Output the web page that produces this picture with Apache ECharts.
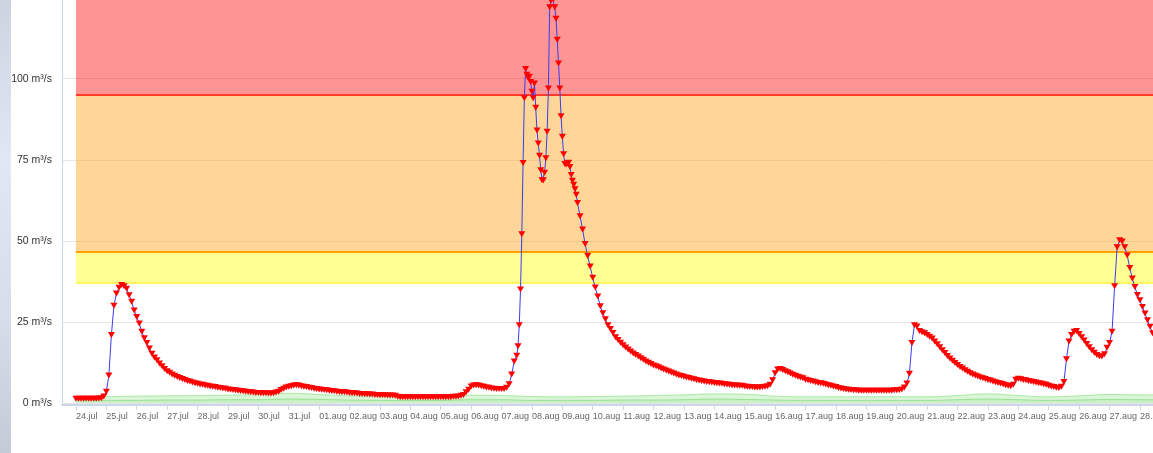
<!DOCTYPE html>
<html><head><meta charset="utf-8">
<script src="https://cdn.jsdelivr.net/npm/echarts@6/dist/echarts.min.js"></script>
<style>html,body{margin:0;padding:0;background:#fff;overflow:hidden}#c{width:1153px;height:453px}</style>
</head><body><div id="c"></div>
<script>
// Day tick labels (one per midnight, day 0 = 24.jul)
const dayLabels = ['24.jul','25.jul','26.jul','27.jul','28.jul','29.jul','30.jul','31.jul',
  '01.aug','02.aug','03.aug','04.aug','05.aug','06.aug','07.aug','08.aug','09.aug','10.aug',
  '11.aug','12.aug','13.aug','14.aug','15.aug','16.aug','17.aug','18.aug','19.aug','20.aug',
  '21.aug','22.aug','23.aug','24.aug','25.aug','26.aug','27.aug','28.aug'];

// Discharge (m³/s), 2-hourly from 24.jul 00:00 to 07.aug 10:00
const flowBeforeStartDay = 0;
const flowBeforeStepHours = 2;
const flowBefore = [
  1.3,1.3,1.3,1.3,1.3,1.3,1.3,1.3,1.3,1.4,1.5,2.0,
  3.5,8.5,21,30,33.8,35.5,36.4,36,35.2,33.2,31.2,28.5,
  26.5,24.5,22,20,18.5,16.8,15.2,14,13.2,12.2,11.3,10.5,
  9.8,9.3,8.8,8.4,8.0,7.7,7.4,7.1,6.8,6.6,6.3,6.1,
  5.9,5.7,5.6,5.4,5.3,5.1,5.0,4.9,4.7,4.6,4.5,4.4,
  4.2,4.1,4.0,3.9,3.8,3.7,3.6,3.5,3.4,3.3,3.2,3.1,
  3.1,3.0,3.0,3.0,2.9,2.9,3.0,3.2,3.5,4.0,4.4,4.8,
  5.0,5.2,5.4,5.5,5.4,5.2,5.0,4.9,4.7,4.6,4.4,4.3,
  4.2,4.1,4.0,3.9,3.8,3.7,3.6,3.5,3.4,3.3,3.3,3.2,
  3.1,3.0,3.0,2.9,2.8,2.8,2.7,2.7,2.6,2.6,2.5,2.5,
  2.4,2.4,2.4,2.3,2.3,2.3,2.2,1.9,1.8,1.8,1.8,1.8,
  1.8,1.8,1.8,1.8,1.8,1.8,1.8,1.8,1.8,1.8,1.8,1.8,
  1.8,1.8,1.8,1.8,1.8,1.9,1.9,2.0,2.2,2.5,3.3,4.1,
  5.1,5.4,5.5,5.4,5.2,5.0,4.8,4.7,4.5,4.4,4.3,4.3,
  4.3,4.3,4.7,5.8,8.8,12.8
];

// Flood peak, hourly from 07.aug 12:00 to 09.aug 11:00
const flowPeakStartDay = 14.5;
const flowPeakStepHours = 1;
const flowPeak = [
  14.6,17.5,24,35,52,74,94,103,101.2,100.3,100.6,99,
  96,94,98.5,91,84,80,76.2,71.8,68.7,68.7,71,75.5,
  83.6,97,122,124,125,124.5,122,118.5,112,104.7,97,88.4,
  82.1,76.7,73.7,73.5,73.9,74.1,72.8,70.3,68.5,67.3,65.9,64.2
];

// 2-hourly from 09.aug 12:00 to 28.aug 10:00
const flowAfterStartDay = 16.5;
const flowAfterStepHours = 2;
const flowAfter = [
  61.7,57.6,53.5,49.0,45.3,42.1,
  38.6,35.6,32.8,29.8,27.7,25.8,24.0,22.8,21.6,20.3,19.4,18.6,
  17.8,17.1,16.5,15.9,15.3,14.8,14.3,13.8,13.3,12.8,12.4,12.0,
  11.6,11.3,11.0,10.6,10.3,10.0,9.7,9.4,9.1,8.8,8.5,8.3,
  8.1,7.9,7.7,7.5,7.3,7.1,6.9,6.8,6.6,6.5,6.4,6.3,
  6.2,6.1,6.0,5.9,5.8,5.7,5.6,5.5,5.4,5.4,5.3,5.3,
  5.1,5.0,4.9,4.9,4.8,4.8,4.8,4.9,5.0,5.2,5.6,7.0,
  9.2,10.3,10.5,10.2,9.8,9.5,9.1,8.7,8.4,8.1,7.9,7.6,
  7.2,7.0,6.8,6.6,6.4,6.2,6.1,5.9,5.7,5.5,5.3,5.1,
  4.9,4.6,4.5,4.3,4.2,4.1,4.0,3.9,3.9,3.8,3.8,3.8,
  3.8,3.8,3.8,3.8,3.8,3.8,3.8,3.8,3.8,3.8,3.8,3.9,
  3.9,4.0,4.2,4.8,6.0,9.0,18.5,24.0,23.6,22.2,21.8,21.5,
  21.0,20.4,19.9,19.0,18.1,17.2,16.3,15.4,14.5,13.7,13.0,12.3,
  11.7,11.1,10.6,10.1,9.6,9.2,8.8,8.5,8.2,7.9,7.6,7.4,
  7.1,6.9,6.6,6.4,6.2,6.0,5.8,5.5,5.3,5.2,5.6,7.2,
  7.5,7.3,7.1,7.0,6.8,6.6,6.5,6.3,6.1,6.0,5.8,5.6,
  5.3,5.1,4.9,4.7,4.6,5.0,6.5,13.5,19.0,21.0,22.0,22.2,
  21.3,20.3,19.3,18.2,17.2,16.3,15.5,14.8,14.4,14.3,15.0,17.0,
  18.5,22.0,36.0,48.0,50.2,49.8,48.0,45.5,41.6,38.4,35.8,33.3,
  31.7,29.6,27.6,25.5,23.5,21.5
];

// Green reference band (daily, from 24.jul)
const greenUpper = [2.0,2.0,2.1,2.2,2.3,2.4,2.6,3.0,2.6,2.2,2.0,1.9,1.9,2.4,2.3,2.0,1.9,2.0,2.1,2.3,2.5,2.8,2.7,2.1,1.9,1.9,1.9,1.9,1.9,2.3,2.8,2.3,1.9,2.2,2.6,2.5,2.4];
const greenLower = [0.8,0.8,0.8,0.9,0.9,1.0,1.0,1.2,1.1,0.9,0.8,0.8,0.8,1.0,1.0,0.8,0.8,0.8,0.9,0.9,1.0,1.2,1.1,0.9,0.8,0.8,0.8,0.8,0.8,1.0,1.2,1.0,0.8,0.9,1.1,1.0,1.0];

// Warning levels (m³/s)
const levelYellow = 37;
const levelOrange = 46.5;
const levelRed = 95;
const levelTop = 125;

const xMin = -11 / 24;
const xMax = 35.43;

function toPairs(startDay, stepHours, arr) {
  return arr.map((v, i) => [startDay + i * stepHours / 24, v]);
}
const flowData = [].concat(
  toPairs(flowBeforeStartDay, flowBeforeStepHours, flowBefore),
  toPairs(flowPeakStartDay, flowPeakStepHours, flowPeak),
  toPairs(flowAfterStartDay, flowAfterStepHours, flowAfter)
);
const greenUpperData = greenUpper.map((v, i) => [i, v]);
const greenLowerData = greenLower.map((v, i) => [i, v]);
const tickVals = dayLabels.map((_, i) => i);

const FONT = "'Liberation Sans', Arial, sans-serif";
const chart = echarts.init(document.getElementById('c'), null, { renderer: 'canvas' });
chart.setOption({
  animation: false,
  backgroundColor: '#ffffff',
  graphic: [{
    type: 'rect', left: 0, top: 0, z: 100,
    shape: { width: 11, height: 453 },
    style: { fill: new echarts.graphic.LinearGradient(0, 0, 0, 1, [
      { offset: 0, color: '#ccd4df' },
      { offset: 0.35, color: '#e1e8f5' },
      { offset: 0.7, color: '#d6dee9' },
      { offset: 1, color: '#c2cbd6' }
    ]) }
  }],
  grid: { left: 62, right: 0, top: -2.4, bottom: 50, containLabel: false, outerBoundsMode: 'none' },
  xAxis: {
    type: 'value', min: xMin, max: xMax, offset: 2,
    axisLine: { show: true, onZero: false, lineStyle: { color: '#ccd6eb', width: 2 } },
    axisTick: { show: true, customValues: tickVals, length: 5, lineStyle: { color: '#ccd6eb', width: 1 } },
    axisLabel: {
      customValues: tickVals, formatter: v => dayLabels[Math.round(v)] || '',
      align: 'left', margin: 7, fontSize: 9, color: '#666666', fontFamily: FONT,
      hideOverlap: false
    },
    splitLine: { show: false }
  },
  yAxis: {
    type: 'value', min: 0, max: levelTop, interval: 25,
    axisLine: { show: true, onZero: false, lineStyle: { color: '#ccd6eb', width: 1 } },
    axisTick: { show: false },
    axisLabel: { formatter: v => v + ' m³/s', margin: 10, fontSize: 10.5, color: '#333333', fontFamily: FONT,
      showMaxLabel: true },
    splitLine: { show: true, lineStyle: { color: '#e6e6e6', width: 1 } }
  },
  series: [
    {
      name: 'bands', type: 'line', data: [], z: 1, silent: true,
      markArea: {
        silent: true,
        data: [
          [{ xAxis: 0, yAxis: levelRed, itemStyle: { color: 'rgba(255,0,0,0.42)' } }, { xAxis: xMax, yAxis: levelTop }],
          [{ xAxis: 0, yAxis: levelOrange, itemStyle: { color: 'rgba(250,170,40,0.48)' } }, { xAxis: xMax, yAxis: levelRed }],
          [{ xAxis: 0, yAxis: levelYellow, itemStyle: { color: 'rgba(255,255,0,0.42)' } }, { xAxis: xMax, yAxis: levelOrange }]
        ]
      },
      markLine: {
        silent: true, symbol: ['none', 'none'], label: { show: false },
        data: [
          [{ coord: [0, levelRed], lineStyle: { color: '#ff3a2a', width: 2, type: 'solid' } }, { coord: [xMax, levelRed] }],
          [{ coord: [0, levelOrange], lineStyle: { color: '#ffa000', width: 2, type: 'solid' } }, { coord: [xMax, levelOrange] }],
          [{ coord: [0, levelYellow], lineStyle: { color: '#fff23a', width: 1.5, type: 'solid' } }, { coord: [xMax, levelYellow] }]
        ]
      }
    },
    {
      name: 'green upper', type: 'line', data: greenUpperData, z: 2, showSymbol: false, smooth: true,
      lineStyle: { color: '#a8e8a2', width: 1 },
      areaStyle: { color: 'rgba(140,225,130,0.45)' }
    },
    {
      name: 'green lower', type: 'line', data: greenLowerData, z: 2, showSymbol: false, smooth: true,
      lineStyle: { color: '#9ade94', width: 1 },
      areaStyle: { color: 'rgba(140,225,130,0.3)' }
    },
    {
      name: 'Q', type: 'line', data: flowData, z: 5, clip: true,
      showSymbol: true, showAllSymbol: true,
      symbol: 'triangle', symbolRotate: 180, symbolSize: [7, 6],
      itemStyle: { color: '#ff0000' },
      lineStyle: { color: '#3c3cf0', width: 1 }
    }
  ]
});
</script></body></html>
